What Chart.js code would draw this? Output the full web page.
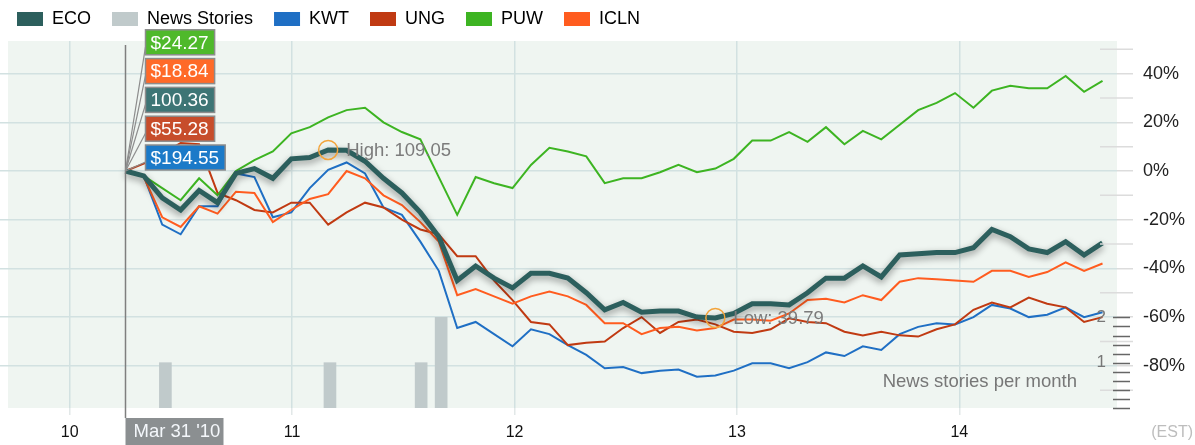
<!DOCTYPE html>
<html>
<head>
<meta charset="utf-8">
<script src="https://cdn.jsdelivr.net/npm/chart.js@4.4.1/dist/chart.umd.min.js"></script>
<style>
  body { margin: 0; background: #fff; }
  #wrap { width: 1195px; height: 445px; }
</style>
</head>
<body>
<div id="wrap"><canvas id="chart" width="1195" height="445"></canvas></div>
<script>
// monthly closes, % change since Mar 31 '10
const ecoValues = [0, -2, -11, -16, -8, -13, -1, 1, -3, 5, 5.5,
    8.66, 8.5, 4, -3, -9, -17, -27, -45, -39, -44, -48,
    -42, -42, -44, -50, -57, -54, -58, -57.5, -57.5, -60, -60.35,
    -58.5, -54.5, -54.5, -55, -50, -44, -44, -39, -43.5, -34.5, -34,
    -33.5, -33.5, -31.5, -24, -27, -32, -33.5, -29, -34.5, -29.5];
const kwtValues = [0, -2, -22, -26, -14.5, -14.5, -1, -2.5, -19, -17, -7,
    0.5, 3.5, -1, -15, -18, -29, -41, -64.5, -62, -67, -72,
    -65, -67, -71.5, -75.5, -81, -80.5, -83, -82, -81.5, -84.5, -84,
    -82, -79, -79, -81, -78.5, -74.5, -76, -72, -73.5, -67, -64,
    -62.5, -63, -60, -55, -56.5, -60, -59, -56, -60, -58];
const ungValues = [0, 3, 7, 11.5, 11, -9, -12, -16, -17, -13, -13,
    -22, -17, -13, -15, -20, -24, -26, -35, -35, -45, -53,
    -62, -63, -71.5, -70.5, -70, -64.5, -60, -66.5, -62, -61, -63,
    -66, -66.5, -65, -60.5, -62, -62.5, -66, -67.5, -66, -67.5, -68,
    -65, -63, -57, -54, -56, -52, -54.5, -56, -62, -60];
const puwValues = [0, -2, -7, -12, -3, -10, 0, 4.5, 8, 15.5, 18,
    22, 25, 26, 20, 16, 13, -2.5, -18, -2.5, -5, -7,
    2.5, 9.5, 8, 6, -5, -3, -3, -0.5, 2.5, -0.5, 1,
    5, 12.5, 12.5, 16, 12, 18, 11, 16.5, 13, 19, 25,
    28, 32, 26, 33, 35, 34, 34, 39, 32.5, 37];
const iclnValues = [0, -2.5, -19, -23, -14.5, -17.5, -8.5, -9, -21, -16, -11.5,
    -9.5, 0, -3, -10, -14, -21, -29, -51, -48.5, -51.5, -54.5,
    -51.5, -49.5, -51.5, -55, -62.5, -62.5, -67, -64.5, -64, -65.5, -64.5,
    -61, -61, -61.5, -58.5, -53, -52.5, -54, -51, -53, -45.5, -44,
    -44.5, -45, -45.5, -41, -41, -43.5, -41.5, -37.5, -41, -38];

const firstPointYear = 2010.25;   // Mar 31 '10
const pointStepYears = 0.0829;    // roughly one month
const pointYears = ecoValues.map((v, i) => firstPointYear + i * pointStepYears);

const newsYears = [2010.43, 2011.17, 2011.58, 2011.67];
const newsCounts = [1, 1, 1, 2];

const yearTicks = [2010, 2011, 2012, 2013, 2014];
const pctTicks = [40, 20, 0, -20, -40, -60, -80];
const newsTickLabels = [1, 2];

const cursorLabel = "Mar 31 '10";
// start prices shown in the stacked boxes, bottom to top
const priceStack = [
    { text: '$194.55', color: '#1b7ac8' },
    { text: '$55.28', color: '#c74d2b' },
    { text: '100.36', color: '#3d7575' },
    { text: '$18.84', color: '#ff6a28' },
    { text: '$24.27', color: '#4fb92b' }
];
const ecoExtremes = [
    { label: 'High', value: 109.05, index: 11 },
    { label: 'Low', value: 39.79, index: 32 }
];

Chart.defaults.font.family = "'Liberation Sans', Arial, Helvetica, sans-serif";

function points(values) {
    return values.map((v, i) => ({ x: pointYears[i], y: v }));
}

function lineSet(label, values, color, width, order) {
    return {
        type: 'line',
        label: label,
        data: points(values),
        borderColor: color,
        backgroundColor: color,
        legendColor: color,
        borderWidth: width,
        pointRadius: 0,
        pointHoverRadius: 0,
        tension: 0,
        fill: false,
        yAxisID: 'y',
        order: order
    };
}

const overlay = {
    id: 'overlay',
    afterInit(chart) {
        // a bit more room under the legend
        const lg = chart.legend;
        if (lg) {
            const fit = lg.fit.bind(lg);
            lg.fit = function () { fit(); this.height += 3; };
        }
    },
    beforeDraw(chart) {
        const { ctx, chartArea: a } = chart;
        ctx.save();
        ctx.fillStyle = '#eff5f1';
        ctx.fillRect(8, a.top, a.right - 8, a.bottom - a.top);
        ctx.restore();
    },
    beforeDatasetDraw(chart, args) {
        if (args.index !== 0) return;
        const ctx = chart.ctx;
        ctx.save();
        ctx.shadowColor = 'rgba(0,0,0,0.4)';
        ctx.shadowBlur = 7;
        ctx.shadowOffsetY = 3;
    },
    afterDatasetDraw(chart, args) {
        if (args.index === 0) chart.ctx.restore();
    },
    afterDatasetsDraw(chart) {
        const { ctx, chartArea: a } = chart;
        const x = chart.scales.x, y = chart.scales.y, yn = chart.scales.yNews;
        ctx.save();

        // minor % ticks
        ctx.strokeStyle = '#dcdcdc';
        ctx.lineWidth = 1.5;
        for (let v = -90; v <= 50; v += 20) {
            const py = y.getPixelForValue(v);
            ctx.beginPath();
            ctx.moveTo(a.right - 17, py);
            ctx.lineTo(a.right + 16, py);
            ctx.stroke();
        }

        // news count axis
        ctx.strokeStyle = '#666';
        for (let n = 0; n <= 10; n++) {
            const py = Math.round(yn.getPixelForValue(n * 0.2)) + 0.5;
            ctx.beginPath();
            ctx.moveTo(a.right - 4, py);
            ctx.lineTo(a.right + 13, py);
            ctx.stroke();
        }
        ctx.fillStyle = '#777';
        ctx.font = "17px 'Liberation Sans', Arial, sans-serif";
        ctx.textAlign = 'right';
        ctx.textBaseline = 'middle';
        newsTickLabels.forEach(n => ctx.fillText(String(n), a.right - 11, yn.getPixelForValue(n)));
        ctx.font = "18.5px 'Liberation Sans', Arial, sans-serif";
        ctx.fillText('News stories per month', a.right - 40, a.bottom - 26);

        // high / low markers
        ctx.textAlign = 'left';
        ecoExtremes.forEach(e => {
            const px = x.getPixelForValue(pointYears[e.index]);
            const py = y.getPixelForValue(ecoValues[e.index]);
            ctx.strokeStyle = '#f3a43b';
            ctx.lineWidth = 1.5;
            ctx.beginPath();
            ctx.arc(px, py, 9.5, 0, Math.PI * 2);
            ctx.stroke();
            ctx.fillStyle = '#7b7b7b';
            ctx.fillText(e.label + ': ' + e.value.toFixed(2), px + 18, py + 1);
        });

        // cursor at the first point
        const sx = Math.round(x.getPixelForValue(pointYears[0])) + 0.5;
        const sy = y.getPixelForValue(0);
        ctx.strokeStyle = '#7f7f7f';
        ctx.lineWidth = 1.5;
        ctx.beginPath();
        ctx.moveTo(sx, a.top + 4);
        ctx.lineTo(sx, a.bottom + 10);
        ctx.stroke();
        ctx.fillStyle = '#8b8f91';
        ctx.fillRect(sx, a.bottom + 10, 98, chart.height - a.bottom - 10);
        ctx.fillStyle = '#f4f7fb';
        ctx.fillText(cursorLabel, sx + 8, a.bottom + 24);

        // start price boxes
        ctx.font = "19px 'Liberation Sans', Arial, sans-serif";
        const left = sx + 20;
        const boxes = priceStack.map((p, k) => {
            const bottom = sy - 1 - k * 28.8;
            return { p, top: bottom - 25, w: ctx.measureText(p.text).width + 11 };
        });
        ctx.strokeStyle = '#8c8c8c';
        ctx.lineWidth = 1.2;
        boxes.forEach(b => {
            ctx.beginPath();
            ctx.moveTo(sx, sy);
            ctx.lineTo(left, b.top + 17);
            ctx.stroke();
        });
        ctx.lineWidth = 1.5;
        boxes.forEach(b => {
            ctx.fillStyle = b.p.color;
            ctx.fillRect(left, b.top, b.w, 25);
            ctx.strokeRect(left, b.top, b.w, 25);
            ctx.fillStyle = '#ffffff';
            ctx.fillText(b.p.text, left + 5, b.top + 13.5);
        });

        // time zone note
        ctx.font = "16px 'Liberation Sans', Arial, sans-serif";
        ctx.fillStyle = '#bdbdbd';
        ctx.textAlign = 'right';
        ctx.fillText('(EST)', chart.width - 2, a.bottom + 25);
        ctx.restore();
    }
};

const chart = new Chart(document.getElementById('chart'), {
    type: 'line',
    data: {
        datasets: [
            lineSet('ECO', ecoValues, '#2c5f5d', 5, 0),
            {
                type: 'bar',
                label: 'News Stories',
                data: newsYears.map((v, i) => ({ x: v, y: newsCounts[i] })),
                backgroundColor: '#c0cacb',
                legendColor: '#c0cacb',
                barThickness: 12,
                yAxisID: 'yNews',
                order: 9
            },
            lineSet('KWT', kwtValues, '#1f6fc4', 2, 4),
            lineSet('UNG', ungValues, '#c03a12', 2, 3),
            lineSet('PUW', puwValues, '#3db422', 2, 2),
            lineSet('ICLN', iclnValues, '#ff5c1f', 2, 1)
        ]
    },
    options: {
        responsive: false,
        animation: false,
        layout: { padding: { top: -11, left: -4, right: 0, bottom: 0 } },
        plugins: {
            tooltip: { enabled: false },
            legend: {
                position: 'top',
                align: 'start',
                labels: {
                    boxWidth: 26,
                    boxHeight: 14,
                    padding: 21,
                    color: '#1f3f7f',
                    font: { size: 18 },
                    generateLabels(c) {
                        return c.data.datasets.map((ds, i) => ({
                            text: ds.label,
                            fillStyle: ds.legendColor,
                            strokeStyle: ds.legendColor,
                            lineWidth: 0,
                            hidden: false,
                            datasetIndex: i
                        }));
                    }
                }
            }
        },
        scales: {
            x: {
                type: 'linear',
                offset: false,
                min: 2009.6864,
                max: 2014.7088,
                afterBuildTicks: s => { s.ticks = yearTicks.map(v => ({ value: v })); },
                afterFit: s => { s.height = 37; },
                ticks: {
                    callback: v => String(v - 2000),
                    color: '#111',
                    font: { size: 16 },
                    padding: 8,
                    maxRotation: 0
                },
                grid: { offset: false, color: '#d2e1e1', lineWidth: 1.5, tickLength: 7, tickColor: '#e2e8e8' },
                border: { display: false }
            },
            y: {
                position: 'right',
                min: -97.33,
                max: 53.39,
                afterBuildTicks: s => { s.ticks = pctTicks.map(v => ({ value: v })); },
                afterFit: s => { s.width = 78; },
                ticks: {
                    callback: v => v + '%',
                    color: '#222',
                    font: { size: 18 },
                    padding: 10
                },
                grid: { color: '#d2e1e1', lineWidth: 1.5, tickLength: 16, tickColor: '#dcdcdc' },
                border: { display: false }
            },
            yNews: {
                display: false,
                position: 'right',
                min: 0,
                max: 8.1
            }
        }
    },
    plugins: [overlay]
});
</script>
</body>
</html>
